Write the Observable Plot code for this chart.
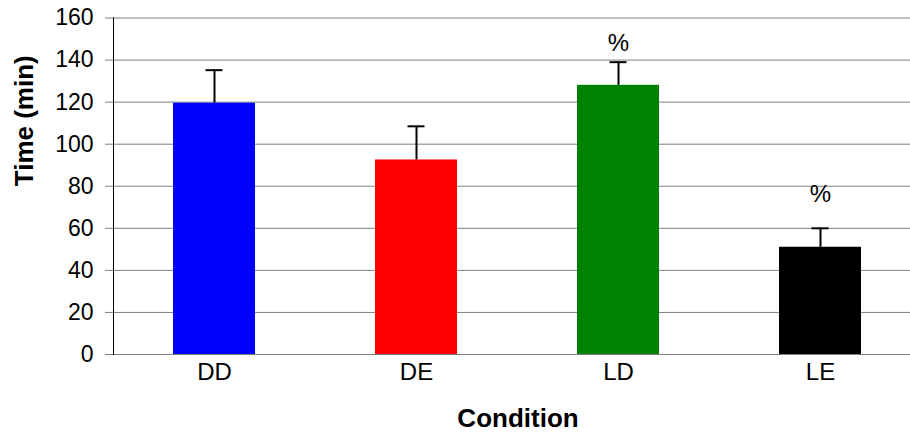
<!DOCTYPE html>
<html>
<head>
<meta charset="utf-8">
<script src="https://cdn.jsdelivr.net/npm/d3@7"></script>
<script src="https://cdn.jsdelivr.net/npm/@observablehq/plot@0.6"></script>
<style>
  html, body { margin: 0; padding: 0; background: #fff; }
  svg { font-family: Arial, "Liberation Sans", sans-serif; }
</style>
</head>
<body>
<div id="chart"></div>
<script>
const conditions = ["DD", "DE", "LD", "LE"];
const times = [119.5, 92.5, 128, 51];
const errors = [15.7, 16, 11, 9];
const colors = ["#0000ff", "#ff0000", "#008000", "#000000"];
const marks = ["", "", "%", "%"];
const markPos = [null, null, 148, 76];
const yTicks = [0, 20, 40, 60, 80, 100, 120, 140, 160];

const data = conditions.map((c, i) => ({c, t: times[i], e: errors[i], color: colors[i]}));
const notes = conditions.map((c, i) => ({c, text: marks[i], y: markPos[i]})).filter(d => d.text);

const chart = Plot.plot({
  width: 910,
  height: 435,
  marginLeft: 113,
  marginRight: 0,
  marginTop: 17.5,
  marginBottom: 81,
  style: {fontFamily: "Arial, 'Liberation Sans', sans-serif", background: "#fff", color: "#000"},
  x: {type: "band", domain: conditions, range: [113, 921], paddingInner: 0.594, paddingOuter: 0.297, label: null},
  y: {domain: [0, 160], label: null},
  marks: [
    Plot.gridY(yTicks, {stroke: "#7f7f7f", strokeOpacity: 1, strokeWidth: 1}),
    Plot.axisY(yTicks, {tickSize: 8, tickPadding: 12, fontSize: 23, stroke: "#7f7f7f", label: null, tickFormat: d => d}),
    Plot.axisX({tickSize: 0, tickPadding: 8, fontSize: 24, label: null}),
    Plot.barY(data, {x: "c", y: "t", fill: "color"}),
    Plot.frame({anchor: "left", stroke: "#000"}),
    Plot.ruleX(data, {x: "c", y1: "t", y2: d => d.t + d.e, stroke: "#000", strokeWidth: 2}),
    Plot.tickY(data, {x: "c", y: d => d.t + d.e, stroke: "#000", strokeWidth: 2, insetLeft: 32.5, insetRight: 32.5}),
    Plot.text(notes, {x: "c", y: "y", text: "text", fontSize: 24, fill: "#000"}),
    Plot.text(["Time (min)"], {frameAnchor: "left", rotate: -90, dx: -89, text: d => d, fontSize: 26, fontWeight: "bold", fill: "#000"}),
    Plot.text(["Condition"], {frameAnchor: "bottom", dy: 72, dx: 6, text: d => d, fontSize: 26, fontWeight: "bold", fill: "#000"})
  ]
});
document.getElementById("chart").appendChild(chart);
</script>
</body>
</html>
